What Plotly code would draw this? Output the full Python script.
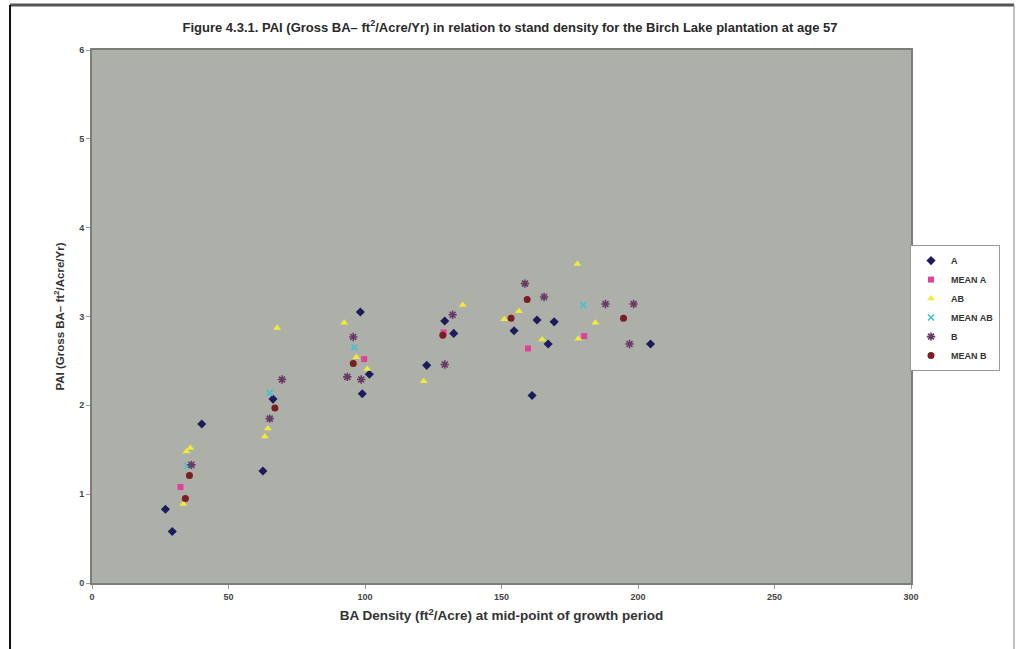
import plotly.graph_objects as go

# ---- data ----
A_x = [26.9, 29.4, 40.2, 62.6, 66.3, 98.3, 101.6, 99.0, 129.2, 132.5, 122.6, 163.0, 169.3, 154.6, 167.1, 204.6, 161.2]
A_y = [0.83, 0.58, 1.79, 1.26, 2.07, 3.05, 2.35, 2.13, 2.95, 2.81, 2.45, 2.96, 2.94, 2.84, 2.69, 2.69, 2.11]

MEAN_A_x = [32.4, 99.7, 128.8, 159.7, 180.3]
MEAN_A_y = [1.08, 2.52, 2.82, 2.64, 2.78]

AB_x = [34.6, 36.0, 33.5, 67.8, 64.4, 63.3, 92.4, 96.8, 100.8, 135.8, 121.5, 177.8, 156.4, 151.0, 184.4, 164.9, 178.1]
AB_y = [1.48, 1.52, 0.89, 2.87, 1.74, 1.65, 2.93, 2.54, 2.41, 3.13, 2.27, 3.59, 3.06, 2.97, 2.93, 2.74, 2.75]

MEAN_AB_x = [35.0, 65.1, 96.1, 180.0]
MEAN_AB_y = [1.32, 2.14, 2.65, 3.13]

B_x = [36.4, 69.6, 65.1, 95.7, 93.5, 98.6, 132.1, 129.2, 158.6, 165.6, 188.1, 198.4, 196.9]
B_y = [1.33, 2.29, 1.85, 2.77, 2.32, 2.29, 3.02, 2.46, 3.37, 3.22, 3.14, 3.14, 2.69]

MEAN_B_x = [35.7, 34.2, 67.0, 95.7, 128.5, 159.4, 153.5, 194.7]
MEAN_B_y = [1.21, 0.95, 1.97, 2.47, 2.79, 3.19, 2.98, 2.98]

series_names = ["A", "MEAN A", "AB", "MEAN AB", "B", "MEAN B"]
x_ticks = [0, 50, 100, 150, 200, 250, 300]
y_ticks = [0, 1, 2, 3, 4, 5, 6]

TITLE = "Figure 4.3.1. PAI (Gross BA\u2013 ft<sup>2</sup>/Acre/Yr) in relation to stand density for the Birch Lake plantation at age 57"
X_TITLE = "BA Density (ft<sup>2</sup>/Acre) at mid-point of growth period"
Y_TITLE = "PAI (Gross BA\u2013 ft<sup>2</sup>/Acre/Yr)"

FONT = "Liberation Sans, Arial, sans-serif"

styles = [
    dict(symbol="diamond", color="#1c1c5c", size=7, line=dict(width=0)),
    dict(symbol="square", color="#e0409a", size=6, line=dict(width=0)),
    dict(symbol="triangle-up", color="#f2ea3a", size=7, line=dict(width=0)),
    dict(symbol="x-thin-open", color="#38c4d4", size=6, line=dict(width=1.5, color="#38c4d4")),
    dict(symbol="asterisk-open", color="#6a3a66", size=7, line=dict(width=1.6, color="#6a3a66")),
    dict(symbol="circle", color="#7a1e24", size=7, line=dict(width=0)),
]
xs = [A_x, MEAN_A_x, AB_x, MEAN_AB_x, B_x, MEAN_B_x]
ys = [A_y, MEAN_A_y, AB_y, MEAN_AB_y, B_y, MEAN_B_y]

fig = go.Figure()
for name, x, y, st in zip(series_names, xs, ys, styles):
    fig.add_trace(go.Scatter(x=x, y=y, mode="markers", name="<b>" + name + "</b>", marker=st))

fig.update_layout(
    width=1016, height=649,
    margin=dict(l=92, r=105, t=50, b=66, autoexpand=False),
    paper_bgcolor="white",
    plot_bgcolor="#adb0a9",
    font=dict(family=FONT, color="#333333", size=9),
    title=dict(text="<b>" + TITLE + "</b>", x=0.502, xanchor="center", y=0.958, yanchor="middle",
               font=dict(size=13, family=FONT, color="#2a2a2a")),
    xaxis=dict(range=[0, 300], tickvals=x_ticks, ticktext=[f"<b>{v}</b>" for v in x_ticks],
               showgrid=False, zeroline=False, showline=True, linecolor="#7c7c7c", linewidth=2, mirror=True,
               ticks="outside", ticklen=4, tickcolor="#9a9a9a", tickfont=dict(size=9, color="#444444"),
               title=dict(text="<b>" + X_TITLE + "</b>", font=dict(size=13.5, color="#333333"), standoff=10)),
    yaxis=dict(range=[0, 6], tickvals=y_ticks, ticktext=[f"<b>{v}</b>" for v in y_ticks],
               showgrid=False, zeroline=False, showline=True, linecolor="#7c7c7c", linewidth=2, mirror=True,
               ticks="outside", ticklen=4, tickcolor="#9a9a9a", tickfont=dict(size=9, color="#444444"),
               title=dict(text="<b>" + Y_TITLE + "</b>", font=dict(size=11.5, color="#333333"), standoff=12)),
    legend=dict(x=0.9988, y=0.634, xanchor="left", yanchor="top", bgcolor="white",
                bordercolor="#9a9a9a", borderwidth=1, font=dict(size=9, color="#333333"),
                itemsizing="trace", tracegroupgap=0, itemwidth=30),
    showlegend=True,
    shapes=[
        dict(type="line", xref="paper", yref="paper", x0=-0.1001, x1=1.1258, y0=1.0844, y1=1.0844,
             line=dict(color="#555555", width=3)),
        dict(type="line", xref="paper", yref="paper", x0=-0.1001, x1=-0.1001, y0=1.0844, y1=-0.14,
             line=dict(color="#111111", width=2)),
        dict(type="line", xref="paper", yref="paper", x0=1.1258, x1=1.1258, y0=1.0844, y1=-0.14,
             line=dict(color="#888888", width=1)),
    ],
)

fig.write_html("out.html")
